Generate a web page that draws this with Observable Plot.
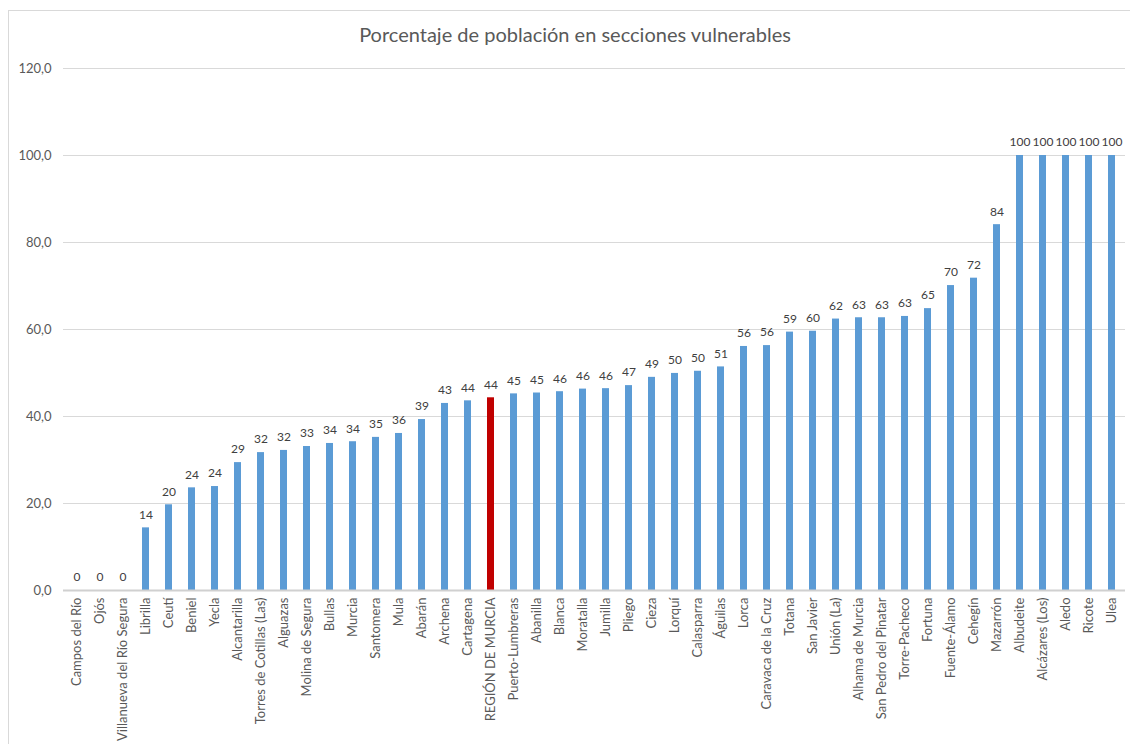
<!DOCTYPE html>
<html>
<head>
<meta charset="utf-8">
<script src="https://cdn.jsdelivr.net/npm/d3@7"></script>
<script src="https://cdn.jsdelivr.net/npm/@observablehq/plot@0.6"></script>
<style>
  html, body { margin: 0; padding: 0; background: #fff; }
  #wrap { position: relative; width: 1130px; height: 744px; overflow: hidden; font-family: Lato, "Open Sans", sans-serif; }
  #frame { position: absolute; left: 8px; top: 10px; width: 1200px; height: 800px; border: 1px solid #d9d9d9; box-sizing: border-box; }
  #title { position: absolute; left: 0; width: 1150px; top: 22px; text-align: center; font-size: 20px; color: #595959; }
  #chart { position: absolute; left: 0; top: 0; }
</style>
</head>
<body>
<div id="wrap">
  <div id="frame"></div>
  <div id="chart"></div>
  <div id="title">Porcentaje de población en secciones vulnerables</div>
</div>
<script>
const municipios = [
  "Campos del Río", "Ojós", "Villanueva del Río Segura", "Librilla", "Ceutí", "Beniel", "Yecla",
  "Alcantarilla", "Torres de Cotillas (Las)", "Alguazas", "Molina de Segura", "Bullas", "Murcia",
  "Santomera", "Mula", "Abarán", "Archena", "Cartagena", "REGIÓN DE MURCIA", "Puerto-Lumbreras",
  "Abanilla", "Blanca", "Moratalla", "Jumilla", "Pliego", "Cieza", "Lorquí", "Calasparra", "Águilas",
  "Lorca", "Caravaca de la Cruz", "Totana", "San Javier", "Unión (La)", "Alhama de Murcia",
  "San Pedro del Pinatar", "Torre-Pacheco", "Fortuna", "Fuente-Álamo", "Cehegín", "Mazarrón",
  "Albudeite", "Alcázares (Los)", "Aledo", "Ricote", "Ulea"
];
const porcentajes = [
  0, 0, 0, 14.4, 19.7, 23.6, 23.9,
  29.4, 31.7, 32.2, 33.1, 33.8, 34.2,
  35.2, 36.1, 39.3, 43.0, 43.6, 44.3, 45.2,
  45.4, 45.7, 46.3, 46.4, 47.1, 49.0, 49.9, 50.4, 51.4,
  56.1, 56.3, 59.4, 59.6, 62.4, 62.7,
  62.7, 63.0, 64.8, 70.1, 71.8, 84.1,
  100, 100, 100, 100, 100
];
const destacado = "REGIÓN DE MURCIA";
const yTicks = [0, 20, 40, 60, 80, 100, 120];

const data = municipios.map((m, i) => ({ m, v: porcentajes[i] }));

const chart = Plot.plot({
  width: 1130,
  height: 744,
  marginLeft: 63,
  marginRight: 5,
  marginTop: 68,
  marginBottom: 154,
  style: { fontFamily: "Lato, 'Open Sans', sans-serif", fontSize: "13px", color: "#595959", background: "transparent" },
  x: { domain: municipios, paddingInner: 0.69, paddingOuter: 0.345, label: null, tickRotate: -90, tickSize: 0, tickPadding: 7 },
  y: { domain: [0, 120], ticks: yTicks, label: null, tickSize: 0, tickPadding: 12, tickFormat: d => d.toFixed(1).replace(".", ",") },
  marks: [
    Plot.gridY(yTicks, { stroke: "#d9d9d9", strokeOpacity: 1, strokeWidth: 1 }),
    Plot.barY(data, { x: "m", y: "v", fill: d => d.m === destacado ? "#C00000" : "#5B9BD5" }),
    Plot.ruleY([0], { stroke: "#d0d0d0", strokeWidth: 2 }),
    Plot.text(data, { x: "m", y: "v", text: d => String(Math.round(d.v)), dy: -13, fill: "#404040", fontSize: 12 })
  ]
});
document.getElementById("chart").appendChild(chart);
</script>
</body>
</html>
